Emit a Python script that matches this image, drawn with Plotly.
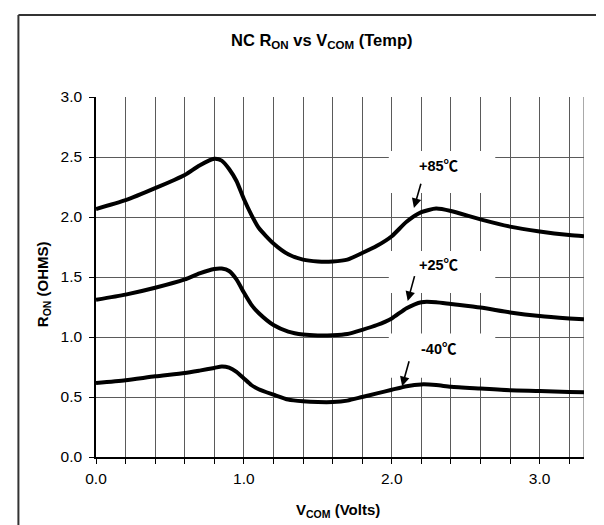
import plotly.graph_objects as go

# ---- data ----
v_com = [0.0, 0.2, 0.4, 0.6, 0.7, 0.8, 0.85, 0.9, 0.95, 1.0, 1.05, 1.1, 1.2, 1.3, 1.4,
         1.5, 1.6, 1.7, 1.8, 1.9, 2.0, 2.1, 2.2, 2.3, 2.4, 2.6, 2.8, 3.0, 3.2, 3.3]

r_on_85 = [2.067, 2.14, 2.24, 2.35, 2.43, 2.485, 2.47, 2.40, 2.30, 2.15, 2.02, 1.91, 1.78, 1.69, 1.645,
           1.63, 1.63, 1.645, 1.70, 1.76, 1.84, 1.96, 2.04, 2.07, 2.05, 1.98, 1.92, 1.88, 1.85, 1.84]

r_on_25 = [1.31, 1.353, 1.41, 1.48, 1.53, 1.567, 1.57, 1.55, 1.48, 1.37, 1.27, 1.20, 1.10, 1.045, 1.02,
           1.012, 1.014, 1.025, 1.06, 1.10, 1.155, 1.24, 1.29, 1.29, 1.275, 1.245, 1.205, 1.175, 1.155, 1.147]

r_on_m40 = [0.617, 0.64, 0.672, 0.70, 0.72, 0.742, 0.755, 0.745, 0.71, 0.655, 0.60, 0.565, 0.52, 0.478, 0.464,
            0.458, 0.458, 0.47, 0.50, 0.53, 0.56, 0.59, 0.605, 0.60, 0.585, 0.57, 0.556, 0.55, 0.542, 0.54]

series_temps = ["+85", "+25", "-40"]
DEG_C = "\u2103"

x_tick_vals = [0.0, 0.2, 0.4, 0.6, 0.8, 1.0, 1.2, 1.4, 1.6, 1.8, 2.0, 2.2, 2.4, 2.6, 2.8, 3.0, 3.2]
x_tick_text = ["0.0", "", "", "", "", "1.0", "", "", "", "", "2.0", "", "", "", "", "3.0", ""]
y_tick_vals = [0.0, 0.5, 1.0, 1.5, 2.0, 2.5, 3.0]

# label placement (text position, arrow tail, arrow head, box)
label_xy = [(2.32, 2.44), (2.32, 1.61), (2.32, 0.914)]
arrow_tail = [(2.20, 2.29), (2.157, 1.52), (2.12, 0.81)]
arrow_head = [(2.15, 2.075), (2.108, 1.30), (2.07, 0.59)]
box_y = [(2.20, 2.55), (1.367, 1.717), (0.66, 1.03)]
box_x = (1.98, 2.70)

FONT = "Liberation Sans, Arial, sans-serif"
CJK = "Noto Sans CJK SC"

fig = go.Figure()
for name, ys in zip(series_temps, [r_on_85, r_on_25, r_on_m40]):
    fig.add_trace(go.Scatter(x=v_com, y=ys, mode="lines", name=name + DEG_C,
                             line=dict(color="black", width=4, shape="spline", smoothing=0.6),
                             showlegend=False, hoverinfo="skip"))

shapes = []
for (y0, y1) in box_y:
    shapes.append(dict(type="rect", xref="x", yref="y", x0=box_x[0], x1=box_x[1], y0=y0, y1=y1,
                       fillcolor="white", line=dict(width=0), layer="between"))
# right edge of plot
shapes.append(dict(type="line", xref="x", yref="y", x0=3.3, x1=3.3, y0=0, y1=3.0,
                   line=dict(color="#8c8c8c", width=1.5), layer="below"))
# outer frame (left and top)
shapes.append(dict(type="line", xref="paper", yref="paper", x0=-0.159, x1=-0.159, y0=1.228, y1=-0.3,
                   line=dict(color="#333333", width=2)))
shapes.append(dict(type="line", xref="paper", yref="paper", x0=-0.159, x1=1.2, y0=1.228, y1=1.228,
                   line=dict(color="#333333", width=2)))

annotations = []
for t, (tx, ty), (ax, ay), (hx, hy) in zip(series_temps, label_xy, arrow_tail, arrow_head):
    txt = "<b>" + t + "<span style='font-family:" + CJK + "'>" + DEG_C + "</span></b>"
    annotations.append(dict(x=tx, y=ty, xref="x", yref="y", text=txt,
                            xanchor="center", yanchor="middle",
                            showarrow=False, font=dict(family=FONT, size=14.5, color="black")))
    annotations.append(dict(x=hx, y=hy, ax=ax, ay=ay, xref="x", yref="y", axref="x", ayref="y",
                            text="", showarrow=True, arrowhead=2, arrowsize=1.2, arrowwidth=1.6,
                            arrowcolor="black", standoff=0, startstandoff=0))

annotations.append(dict(x=0.463, y=1.156, xref="paper", yref="paper", xanchor="center", yanchor="middle",
                        text="<b>NC R<sub>ON</sub> vs V<sub>COM</sub> (Temp)</b>",
                        showarrow=False, font=dict(family=FONT, size=16.5, color="black")))
annotations.append(dict(x=0.496, y=-0.15, xref="paper", yref="paper", xanchor="center", yanchor="middle",
                        text="<b>V<sub>COM</sub> (Volts)</b>",
                        showarrow=False, font=dict(family=FONT, size=15, color="black")))
annotations.append(dict(x=-0.1086, y=0.48, xref="paper", yref="paper", xanchor="center", yanchor="middle",
                        text="<b>R<sub>ON</sub> (OHMS)</b>", textangle=-90,
                        showarrow=False, font=dict(family=FONT, size=15, color="black")))

fig.update_layout(
    width=604, height=525,
    margin=dict(l=88, r=28, t=89, b=76),
    paper_bgcolor="white", plot_bgcolor="white",
    font=dict(family=FONT, size=15, color="black"),
    shapes=shapes, annotations=annotations,
)
fig.update_xaxes(range=[0, 3.3], tickmode="array", tickvals=x_tick_vals, ticktext=x_tick_text,
                 showgrid=True, gridcolor="#5a5a5a", gridwidth=1, zeroline=False,
                 showline=True, linecolor="black", linewidth=1.5,
                 ticks="outside", ticklen=5, tickcolor="black", ticklabelstandoff=2,
                 tickfont=dict(family=FONT, size=15.5, color="black"))
fig.update_yaxes(range=[0, 3.0], tickmode="array", tickvals=y_tick_vals,
                 ticktext=["%.1f" % v for v in y_tick_vals],
                 showgrid=True, gridcolor="#5a5a5a", gridwidth=1, zeroline=False,
                 showline=True, linecolor="black", linewidth=1.5,
                 ticks="outside", ticklen=5, tickcolor="black", ticklabelstandoff=4,
                 tickfont=dict(family=FONT, size=15.5, color="black"))

fig.write_html("out.html")
